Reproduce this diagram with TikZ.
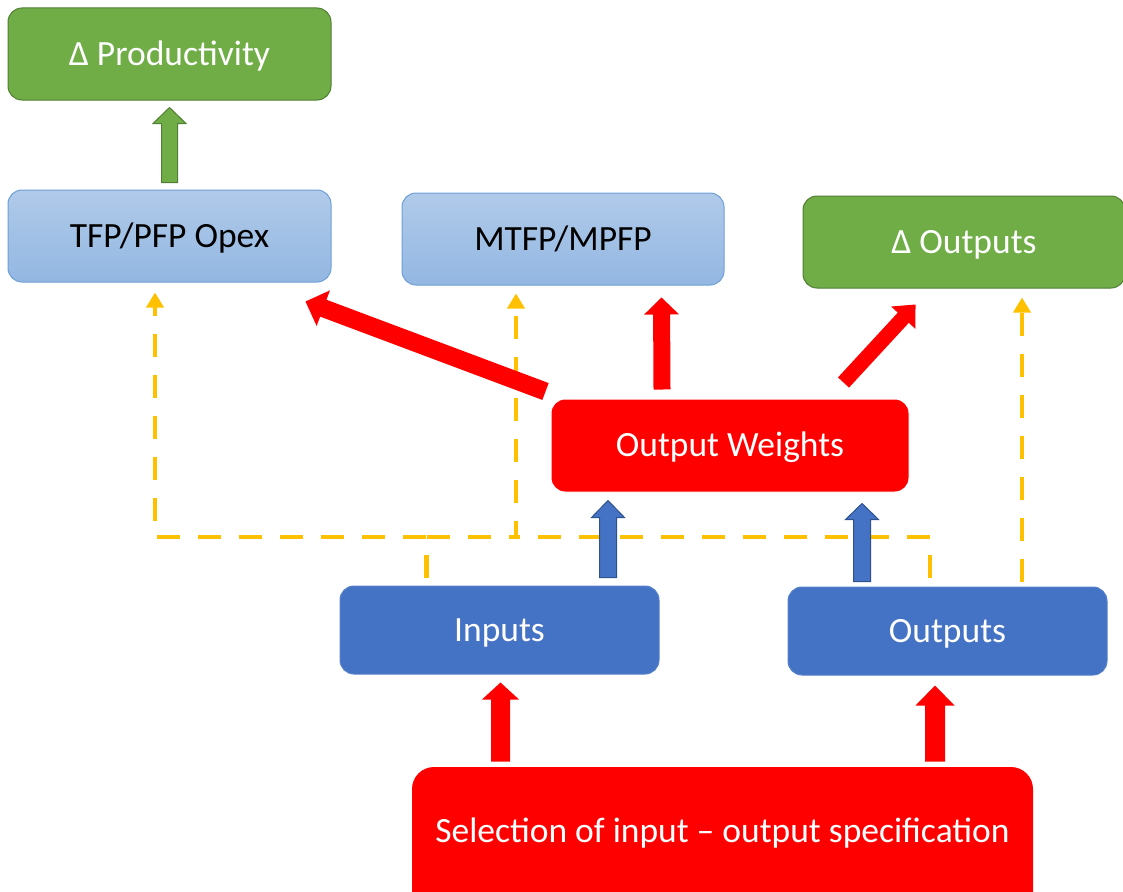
\documentclass[tikz,border=0pt]{standalone}
\usepackage{fontspec}
\setmainfont{Carlito}
\usetikzlibrary{arrows.meta,calc}

\definecolor{leafgreen}{HTML}{70AD47}
\definecolor{leafedge}{HTML}{507E32}
\definecolor{paletop}{HTML}{B0CAE9}
\definecolor{palebot}{HTML}{93B7E2}
\definecolor{paleedge}{HTML}{6E9FD6}
\definecolor{deepblue}{HTML}{4472C4}
\definecolor{deepedge}{HTML}{2F528F}
\definecolor{brightred}{HTML}{FF0000}
\definecolor{amber}{HTML}{FFC000}

% Block arrow: #1 style, #2 tail, #3 tip, #4 half shaft, #5 half head, #6 head length
\newcommand\blockarrow[6]{%
  \coordinate (ba-neck) at ($(#3)!#6!(#2)$);
  \draw[#1] ($(#2)!#4!90:(#3)$) -- ($(ba-neck)!#4!90:(#3)$) -- ($(ba-neck)!#5!90:(#3)$)
    -- (#3) -- ($(ba-neck)!#5!-90:(#3)$) -- ($(ba-neck)!#4!-90:(#3)$)
    -- ($(#2)!#4!-90:(#3)$) -- cycle;}

\begin{document}
\begin{tikzpicture}[x=1pt,y=-1pt,
  label text/.style={font=\fontsize{35.5}{42}\selectfont, text height=30pt, text depth=8pt},
  box/.style={rectangle, rounded corners=14pt, inner sep=0pt, line width=1pt, label text},
  greenbox/.style={box, fill=leafgreen, draw=leafedge, text=white},
  palebox/.style={box, top color=paletop, bottom color=palebot, draw=paleedge, text=black},
  redbox/.style={box, fill=brightred, draw=white, text=white},
  bluebox/.style={box, fill=deepblue, draw=deepblue!90!white, text=white},
  redarrow/.style={fill=brightred, draw=none},
  bluearrow/.style={fill=deepblue, draw=deepedge, line width=1pt},
  greenarrow/.style={fill=leafgreen, draw=leafedge, line width=1pt},
  ydash/.style={draw=amber, line width=4.5pt, dash pattern=on 23pt off 18pt,
    -{Triangle[width=17pt,length=15pt]}},
  yplain/.style={draw=amber, line width=4.5pt, dash pattern=on 23pt off 18pt}
]
\clip (0,0) rectangle (1123,891);

% boxes
\node[greenbox, minimum width=323pt, minimum height=92pt] (prod) at (169.5,54) {Δ Productivity};
\node[palebox, minimum width=323pt, minimum height=92pt] (tfp) at (169.5,236) {TFP/PFP Opex};
\node[palebox, minimum width=322pt, minimum height=92pt] (mtfp) at (563,239) {MTFP/MPFP};
\node[greenbox, minimum width=322pt, minimum height=92pt] (dout) at (964,242) {Δ Outputs};
\node[redbox, minimum width=358pt, minimum height=93pt] (ow) at (730,445.5) {Output Weights};
\node[bluebox, minimum width=319pt, minimum height=88pt] (inp) at (499.5,630) {Inputs};
\node[bluebox, minimum width=319pt, minimum height=88pt] (outp) at (947.5,631) {Outputs};
\node[box, fill=brightred, rounded corners=22pt, minimum width=621pt, minimum height=150pt] (sel) at (722.5,842) {};
\node[label text, text=white, inner sep=0pt] (seltext) at (722.5,831) {Selection of input – output specification};

% dashed links
\coordinate (jl) at (155,537);
\coordinate (jm) at (516,537);
\draw[ydash] ($(inp.north)+(-73,-8)$) |- (jl) -- ($(tfp.south)+(-14.5,10)$);
\draw[ydash] ($(inp.north)+(-73,-8)$) |- (jm) -- ($(mtfp.south)+(-47,8)$);
\draw[yplain] ($(outp.north)+(-17.5,-9)$) |- (jm);
\draw[ydash] ($(outp.north)+(74.5,-5)$) -- ($(dout.south)+(58,9)$);

% block arrows
\blockarrow{greenarrow}{$(tfp.north)+(0,-7)$}{$(prod.south)+(0,7)$}{8pt}{16.5pt}{16pt}
\blockarrow{redarrow}{$(ow.north west)+(-5,-7)$}{$(tfp.south east)+(-26,19)$}{9pt}{19pt}{19pt}
\blockarrow{redarrow}{$(ow.north)+(-68,-9)$}{$(mtfp.south)+(98.5,12)$}{8.5pt}{17.5pt}{17pt}
\blockarrow{redarrow}{$(ow.north east)+(-66,-16)$}{$(dout.south west)+(113,16)$}{7.5pt}{16.5pt}{18pt}
\blockarrow{bluearrow}{$(inp.north)+(108.5,-8)$}{$(ow.south)+(-122,8)$}{8.5pt}{16.5pt}{17pt}
\blockarrow{bluearrow}{$(outp.north)+(-85.5,-5)$}{$(ow.south)+(132,11)$}{8.5pt}{16.5pt}{16pt}
\blockarrow{redarrow}{$(sel.north)+(-222,-5)$}{$(inp.south)+(1,8)$}{9.5pt}{18.5pt}{17pt}
\blockarrow{redarrow}{$(sel.north)+(212.5,-5)$}{$(outp.south)+(-12.5,10)$}{10pt}{19.5pt}{20pt}
\end{tikzpicture}
\end{document}
